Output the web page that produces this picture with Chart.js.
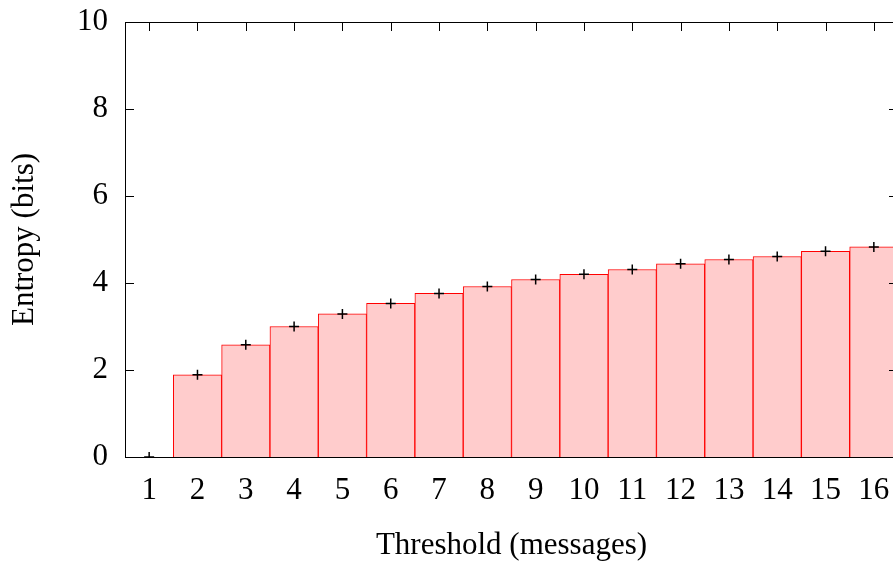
<!DOCTYPE html>
<html>
<head>
<meta charset="utf-8">
<script src="https://cdn.jsdelivr.net/npm/chart.js@4/dist/chart.umd.min.js"></script>
<style>
  html, body { margin: 0; padding: 0; background: #fff; overflow: hidden; }
  #wrap { width: 910px; height: 565px; }
</style>
</head>
<body>
<div id="wrap"><canvas id="myChart"></canvas></div>
<script>
const thresholds = ['1','2','3','4','5','6','7','8','9','10','11','12','13','14','15','16'];
const entropy = [0, 1.89, 2.58, 3.00, 3.29, 3.53, 3.76, 3.92, 4.08, 4.20, 4.31, 4.44, 4.54, 4.61, 4.73, 4.83];
const yTicks = [0, 2, 4, 6, 8, 10];

Chart.defaults.font.family = "'Liberation Serif', 'DejaVu Serif', serif";
Chart.defaults.font.size = 31;
Chart.defaults.color = '#000';

// gnuplot style border with inward ticks
const frame = {
  id: 'frame',
  afterDatasetsDraw(chart) {
    const {ctx, chartArea: a, scales} = chart;
    ctx.save();
    ctx.strokeStyle = '#000';
    ctx.lineWidth = 1;
    ctx.beginPath();
    yTicks.forEach(v => {
      const y = Math.round(scales.y.getPixelForValue(v)) + 0.5;
      ctx.moveTo(a.left, y); ctx.lineTo(a.left + 9, y);
      ctx.moveTo(a.right, y); ctx.lineTo(a.right - 9, y);
    });
    thresholds.forEach((t, i) => {
      const x = Math.round(scales.x.getPixelForValue(i)) + 0.5;
      ctx.moveTo(x, a.top); ctx.lineTo(x, a.top + 9);
    });
    ctx.stroke();
    ctx.strokeRect(Math.round(a.left) + 0.5, Math.round(a.top) + 0.5,
      Math.round(a.right - a.left), Math.round(a.bottom - a.top));
    ctx.restore();
  }
};

const data = {
  labels: thresholds,
  datasets: [{
    type: 'line',
    data: entropy,
    showLine: false,
    pointStyle: 'cross',
    pointRadius: 5,
    pointBorderWidth: 1.5,
    borderColor: '#000',
    backgroundColor: '#000',
    order: 0
  }, {
    type: 'bar',
    data: entropy,
    backgroundColor: '#ffcccc',
    borderColor: '#ff0000',
    borderWidth: 1,
    barPercentage: 1,
    categoryPercentage: 1,
    order: 1
  }]
};

const config = {
  type: 'bar',
  data,
  plugins: [frame],
  options: {
    responsive: true,
    maintainAspectRatio: false,
    animation: false,
    layout: { padding: { top: 22, right: 12, left: 0, bottom: 0 } },
    plugins: { legend: { display: false }, tooltip: { enabled: false } },
    scales: {
      x: {
        offset: true,
        grid: { display: false, drawTicks: false },
        border: { display: false },
        ticks: { padding: 15, maxRotation: 0, autoSkip: false },
        title: { display: true, text: 'Threshold (messages)', padding: { top: 0, bottom: 1 } },
        afterFit(s) { s.height = 108; s.paddingLeft = 0; s.paddingRight = 0; }
      },
      y: {
        min: 0,
        max: 10,
        grid: { display: false, drawTicks: false },
        border: { display: false },
        ticks: { stepSize: 2, padding: 17 },
        title: { display: true, text: 'Entropy (bits)', padding: { top: 6, bottom: 0 } },
        afterFit(s) { s.width = 125; s.paddingTop = 0; s.paddingBottom = 0; }
      }
    }
  }
};

const myChart = new Chart(document.getElementById('myChart'), config);
</script>
</body>
</html>
